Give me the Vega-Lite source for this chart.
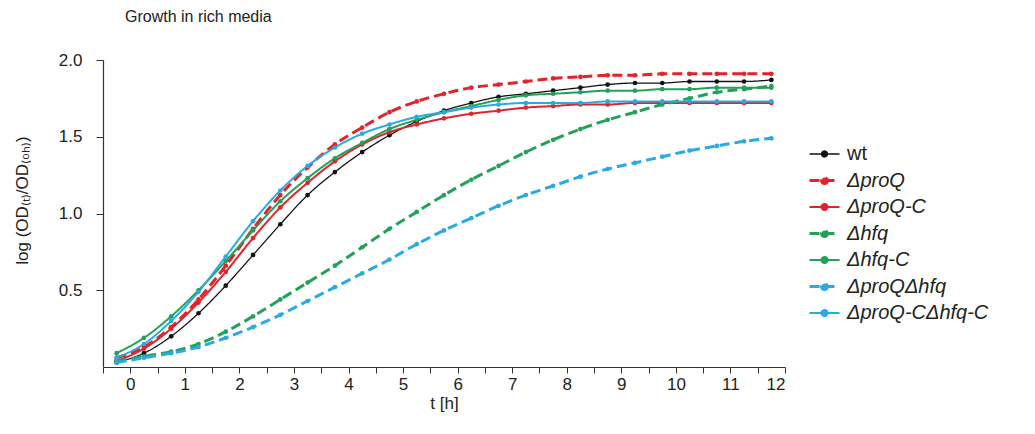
{
  "$schema": "https://vega.github.io/schema/vega-lite/v6.json",
  "width": 682,
  "height": 307,
  "autosize": {"type": "none"},
  "padding": {"left": 103, "top": 60, "right": 250, "bottom": 67},
  "background": "white",
  "title": {"text": "Growth in rich media", "anchor": "start", "frame": "group", "dx": 22, "fontSize": 16, "font": "Liberation Sans", "fontWeight": "normal", "color": "#222", "offset": 26},
  "data": {"values": [
    {"t": -0.25, "wt": 0.03, "ΔproQ": 0.06, "ΔproQ-C": 0.04, "Δhfq": 0.04, "Δhfq-C": 0.09, "ΔproQΔhfq": 0.03, "ΔproQ-CΔhfq-C": 0.06},
    {"t": 0.25, "wt": 0.09, "ΔproQ": 0.13, "ΔproQ-C": 0.12, "Δhfq": 0.07, "Δhfq-C": 0.19, "ΔproQΔhfq": 0.06, "ΔproQ-CΔhfq-C": 0.15},
    {"t": 0.75, "wt": 0.20, "ΔproQ": 0.26, "ΔproQ-C": 0.25, "Δhfq": 0.10, "Δhfq-C": 0.33, "ΔproQΔhfq": 0.09, "ΔproQ-CΔhfq-C": 0.30},
    {"t": 1.25, "wt": 0.35, "ΔproQ": 0.44, "ΔproQ-C": 0.42, "Δhfq": 0.15, "Δhfq-C": 0.50, "ΔproQΔhfq": 0.13, "ΔproQ-CΔhfq-C": 0.49},
    {"t": 1.75, "wt": 0.53, "ΔproQ": 0.66, "ΔproQ-C": 0.62, "Δhfq": 0.23, "Δhfq-C": 0.69, "ΔproQΔhfq": 0.19, "ΔproQ-CΔhfq-C": 0.72},
    {"t": 2.25, "wt": 0.73, "ΔproQ": 0.90, "ΔproQ-C": 0.84, "Δhfq": 0.33, "Δhfq-C": 0.89, "ΔproQΔhfq": 0.26, "ΔproQ-CΔhfq-C": 0.95},
    {"t": 2.75, "wt": 0.93, "ΔproQ": 1.12, "ΔproQ-C": 1.04, "Δhfq": 0.44, "Δhfq-C": 1.08, "ΔproQΔhfq": 0.34, "ΔproQ-CΔhfq-C": 1.15},
    {"t": 3.25, "wt": 1.12, "ΔproQ": 1.30, "ΔproQ-C": 1.20, "Δhfq": 0.55, "Δhfq-C": 1.23, "ΔproQΔhfq": 0.43, "ΔproQ-CΔhfq-C": 1.31},
    {"t": 3.75, "wt": 1.27, "ΔproQ": 1.45, "ΔproQ-C": 1.34, "Δhfq": 0.66, "Δhfq-C": 1.36, "ΔproQΔhfq": 0.52, "ΔproQ-CΔhfq-C": 1.43},
    {"t": 4.25, "wt": 1.40, "ΔproQ": 1.56, "ΔproQ-C": 1.45, "Δhfq": 0.78, "Δhfq-C": 1.46, "ΔproQΔhfq": 0.61, "ΔproQ-CΔhfq-C": 1.52},
    {"t": 4.75, "wt": 1.51, "ΔproQ": 1.66, "ΔproQ-C": 1.53, "Δhfq": 0.90, "Δhfq-C": 1.55, "ΔproQΔhfq": 0.70, "ΔproQ-CΔhfq-C": 1.58},
    {"t": 5.25, "wt": 1.60, "ΔproQ": 1.73, "ΔproQ-C": 1.58, "Δhfq": 1.01, "Δhfq-C": 1.61, "ΔproQΔhfq": 0.80, "ΔproQ-CΔhfq-C": 1.63},
    {"t": 5.75, "wt": 1.67, "ΔproQ": 1.78, "ΔproQ-C": 1.62, "Δhfq": 1.12, "Δhfq-C": 1.66, "ΔproQΔhfq": 0.89, "ΔproQ-CΔhfq-C": 1.66},
    {"t": 6.25, "wt": 1.72, "ΔproQ": 1.82, "ΔproQ-C": 1.65, "Δhfq": 1.22, "Δhfq-C": 1.70, "ΔproQΔhfq": 0.97, "ΔproQ-CΔhfq-C": 1.69},
    {"t": 6.75, "wt": 1.76, "ΔproQ": 1.84, "ΔproQ-C": 1.67, "Δhfq": 1.31, "Δhfq-C": 1.74, "ΔproQΔhfq": 1.05, "ΔproQ-CΔhfq-C": 1.71},
    {"t": 7.25, "wt": 1.78, "ΔproQ": 1.86, "ΔproQ-C": 1.69, "Δhfq": 1.40, "Δhfq-C": 1.77, "ΔproQΔhfq": 1.12, "ΔproQ-CΔhfq-C": 1.72},
    {"t": 7.75, "wt": 1.80, "ΔproQ": 1.88, "ΔproQ-C": 1.70, "Δhfq": 1.48, "Δhfq-C": 1.78, "ΔproQΔhfq": 1.18, "ΔproQ-CΔhfq-C": 1.72},
    {"t": 8.25, "wt": 1.82, "ΔproQ": 1.89, "ΔproQ-C": 1.71, "Δhfq": 1.55, "Δhfq-C": 1.79, "ΔproQΔhfq": 1.24, "ΔproQ-CΔhfq-C": 1.72},
    {"t": 8.75, "wt": 1.84, "ΔproQ": 1.90, "ΔproQ-C": 1.71, "Δhfq": 1.61, "Δhfq-C": 1.80, "ΔproQΔhfq": 1.29, "ΔproQ-CΔhfq-C": 1.73},
    {"t": 9.25, "wt": 1.85, "ΔproQ": 1.90, "ΔproQ-C": 1.72, "Δhfq": 1.66, "Δhfq-C": 1.80, "ΔproQΔhfq": 1.33, "ΔproQ-CΔhfq-C": 1.73},
    {"t": 9.75, "wt": 1.85, "ΔproQ": 1.91, "ΔproQ-C": 1.72, "Δhfq": 1.71, "Δhfq-C": 1.81, "ΔproQΔhfq": 1.37, "ΔproQ-CΔhfq-C": 1.73},
    {"t": 10.25, "wt": 1.86, "ΔproQ": 1.91, "ΔproQ-C": 1.72, "Δhfq": 1.75, "Δhfq-C": 1.81, "ΔproQΔhfq": 1.41, "ΔproQ-CΔhfq-C": 1.73},
    {"t": 10.75, "wt": 1.86, "ΔproQ": 1.91, "ΔproQ-C": 1.72, "Δhfq": 1.79, "Δhfq-C": 1.82, "ΔproQΔhfq": 1.44, "ΔproQ-CΔhfq-C": 1.73},
    {"t": 11.25, "wt": 1.86, "ΔproQ": 1.91, "ΔproQ-C": 1.72, "Δhfq": 1.81, "Δhfq-C": 1.82, "ΔproQΔhfq": 1.47, "ΔproQ-CΔhfq-C": 1.73},
    {"t": 11.75, "wt": 1.87, "ΔproQ": 1.91, "ΔproQ-C": 1.72, "Δhfq": 1.83, "Δhfq-C": 1.82, "ΔproQΔhfq": 1.49, "ΔproQ-CΔhfq-C": 1.73}
  ]},
  "transform": [
    {"fold": ["wt", "ΔproQ", "ΔproQ-C", "Δhfq", "Δhfq-C", "ΔproQΔhfq", "ΔproQ-CΔhfq-C"], "as": ["strain", "v"]}
  ],
  "encoding": {
    "x": {
      "field": "t", "type": "quantitative",
      "scale": {"domain": [-0.5, 12], "nice": false, "zero": false},
      "axis": {
        "values": [-0.5, 0, 0.5, 1, 1.5, 2, 2.5, 3, 3.5, 4, 4.5, 5, 5.5, 6, 6.5, 7, 7.5, 8, 8.5, 9, 9.5, 10, 10.5, 11, 11.5, 12],
        "labelExpr": "datum.value % 1 == 0 ? format(datum.value, 'd') : ''",
        "title": "t [h]", "tickSize": 6, "labelPadding": 3, "titlePadding": 3
      }
    },
    "y": {
      "field": "v", "type": "quantitative",
      "scale": {"domain": [0, 2], "nice": false},
      "axis": {
        "values": [0.5, 1, 1.5, 2], "format": ".1f",
        "title": "log (OD₍ₜ₎/OD₍₀ₕ₎)",
        "titleX": -81, "titleY": 140, "titleAngle": -90, "titleBaseline": "middle", "titleAlign": "center",
        "tickSize": 7, "labelPadding": 14
      }
    },
    "color": {
      "field": "strain", "type": "nominal",
      "scale": {
        "domain": ["wt", "ΔproQ", "ΔproQ-C", "Δhfq", "Δhfq-C", "ΔproQΔhfq", "ΔproQ-CΔhfq-C"],
        "range": ["#111111", "#e3222a", "#e3222a", "#23a059", "#23a059", "#29abe2", "#29abe2"]
      },
      "legend": {
        "orient": "none", "legendX": 705, "legendY": 78, "title": null,
        "symbolType": "M-1,0H1M0.2,0A0.2,0.2 0 1 1 -0.2,0A0.2,0.2 0 1 1 0.2,0Z",
        "symbolSize": 900, "symbolStrokeWidth": 2,
        "labelFontSize": 20, "labelFont": "Liberation Sans", "labelColor": "#222", "labelOffset": 6,
        "rowPadding": 0, "padding": 0,
        "encode": {
          "symbols": {"update": {"fill": {"scale": "color", "field": "value"}, "strokeWidth": {"value": 2}}},
          "labels": {"update": {"fontStyle": {"signal": "datum.value == 'wt' ? 'normal' : 'italic'"}}}
        }
      }
    }
  },
  "layer": [
    {
      "mark": {"type": "line", "interpolate": "monotone"},
      "encoding": {
        "strokeDash": {
          "field": "strain", "type": "nominal",
          "scale": {
            "domain": ["wt", "ΔproQ", "ΔproQ-C", "Δhfq", "Δhfq-C", "ΔproQΔhfq", "ΔproQ-CΔhfq-C"],
            "range": [[1, 0], [10, 5], [1, 0], [10, 5], [1, 0], [10, 5], [1, 0]]
          },
          "legend": {
            "orient": "none", "legendX": 705, "legendY": 78, "title": null,
            "symbolType": "M-1,0H1M0.2,0A0.2,0.2 0 1 1 -0.2,0A0.2,0.2 0 1 1 0.2,0Z",
            "symbolSize": 900, "symbolStrokeWidth": 2,
            "labelFontSize": 20, "labelFont": "Liberation Sans", "labelColor": "#222", "labelOffset": 6,
            "rowPadding": 0, "padding": 0
          }
        },
        "strokeWidth": {
          "field": "strain", "type": "nominal",
          "scale": {
            "type": "ordinal",
            "domain": ["wt", "ΔproQ", "ΔproQ-C", "Δhfq", "Δhfq-C", "ΔproQΔhfq", "ΔproQ-CΔhfq-C"],
            "range": [1.3, 3, 2, 3, 2, 3, 2]
          },
          "legend": null
        }
      }
    },
    {
      "mark": {"type": "point", "filled": true, "size": 22, "opacity": 1},
      "encoding": {}
    }
  ],
  "config": {
    "view": {"stroke": null},
    "axis": {
      "grid": false, "domainColor": "#333", "tickColor": "#333", "domainWidth": 1.2,
      "labelColor": "#222", "labelFont": "Liberation Sans", "labelFontSize": 17,
      "titleColor": "#222", "titleFont": "Liberation Sans", "titleFontSize": 17, "titleFontWeight": "normal"
    }
  }
}
